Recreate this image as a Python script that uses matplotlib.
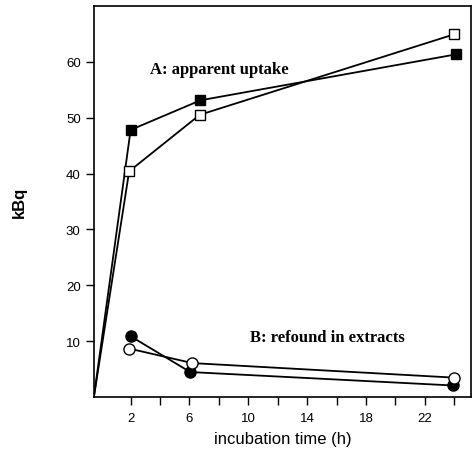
import matplotlib
matplotlib.use('Agg')
import matplotlib.pyplot as plt

plt.rcParams['font.family'] = ['Liberation Sans', 'DejaVu Sans']

# apparent uptake (squares)
t_sq_filled = [-0.5, 2.0, 6.75, 24.1]
a_filled = [0, 47.8, 53.1, 61.3]
t_sq_open = [-0.5, 1.9, 6.7, 24.0]
a_open = [0, 40.4, 50.5, 64.9]

# refound in extracts (circles)
t_ci_filled = [2.0, 6.05, 23.9]
b_filled = [10.9, 4.5, 2.1]
t_ci_open = [1.9, 6.2, 24.0]
b_open = [8.7, 6.1, 3.5]

xticks = [2, 4, 6, 8, 10, 12, 14, 16, 18, 20, 22, 24]
xticklabels = ['2', '', '6', '', '10', '', '14', '', '18', '', '22', '']
yticks = [10, 20, 30, 40, 50, 60]

fig = plt.figure(figsize=(4.74, 4.52), dpi=100)
ax = fig.add_axes([0.198, 0.119, 0.796, 0.866])

ms = 7
ax.plot(t_sq_filled, a_filled, 'k-', marker='s', ms=ms, mfc='black', mec='black', lw=1.3, markevery=[1, 2, 3])
ax.plot(t_sq_open, a_open, 'k-', marker='s', ms=ms, mfc='white', mec='black', lw=1.3, markevery=[1, 2, 3])
ax.plot(t_ci_filled, b_filled, 'k-', marker='o', ms=ms + 1, mfc='black', mec='black', lw=1.3)
ax.plot(t_ci_open, b_open, 'k-', marker='o', ms=ms + 1, mfc='white', mec='black', lw=1.3)

ax.text(3.35, 58.7, 'A: apparent uptake', family=['Liberation Serif', 'DejaVu Serif'],
        fontweight='bold', fontsize=12, va='center')
ax.text(10.1, 10.7, 'B: refound in extracts', family=['Liberation Serif', 'DejaVu Serif'],
        fontweight='bold', fontsize=12, va='center')

ax.set_xlim(-0.5, 25.15)
ax.set_ylim(0, 70)
ax.set_xticks(xticks)
ax.set_xticklabels(xticklabels)
ax.set_yticks(yticks)
ax.tick_params(direction='out', length=6, width=1, labelsize=9.5, colors='black')
ax.tick_params(axis='x', pad=5)
for s in ax.spines.values():
    s.set_linewidth(1.2)

ax.set_xlabel('incubation time (h)', fontsize=12, labelpad=5)
ax.set_ylabel('kBq', fontsize=12, fontweight='bold', labelpad=28)

plt.savefig('out.png', dpi=100)
